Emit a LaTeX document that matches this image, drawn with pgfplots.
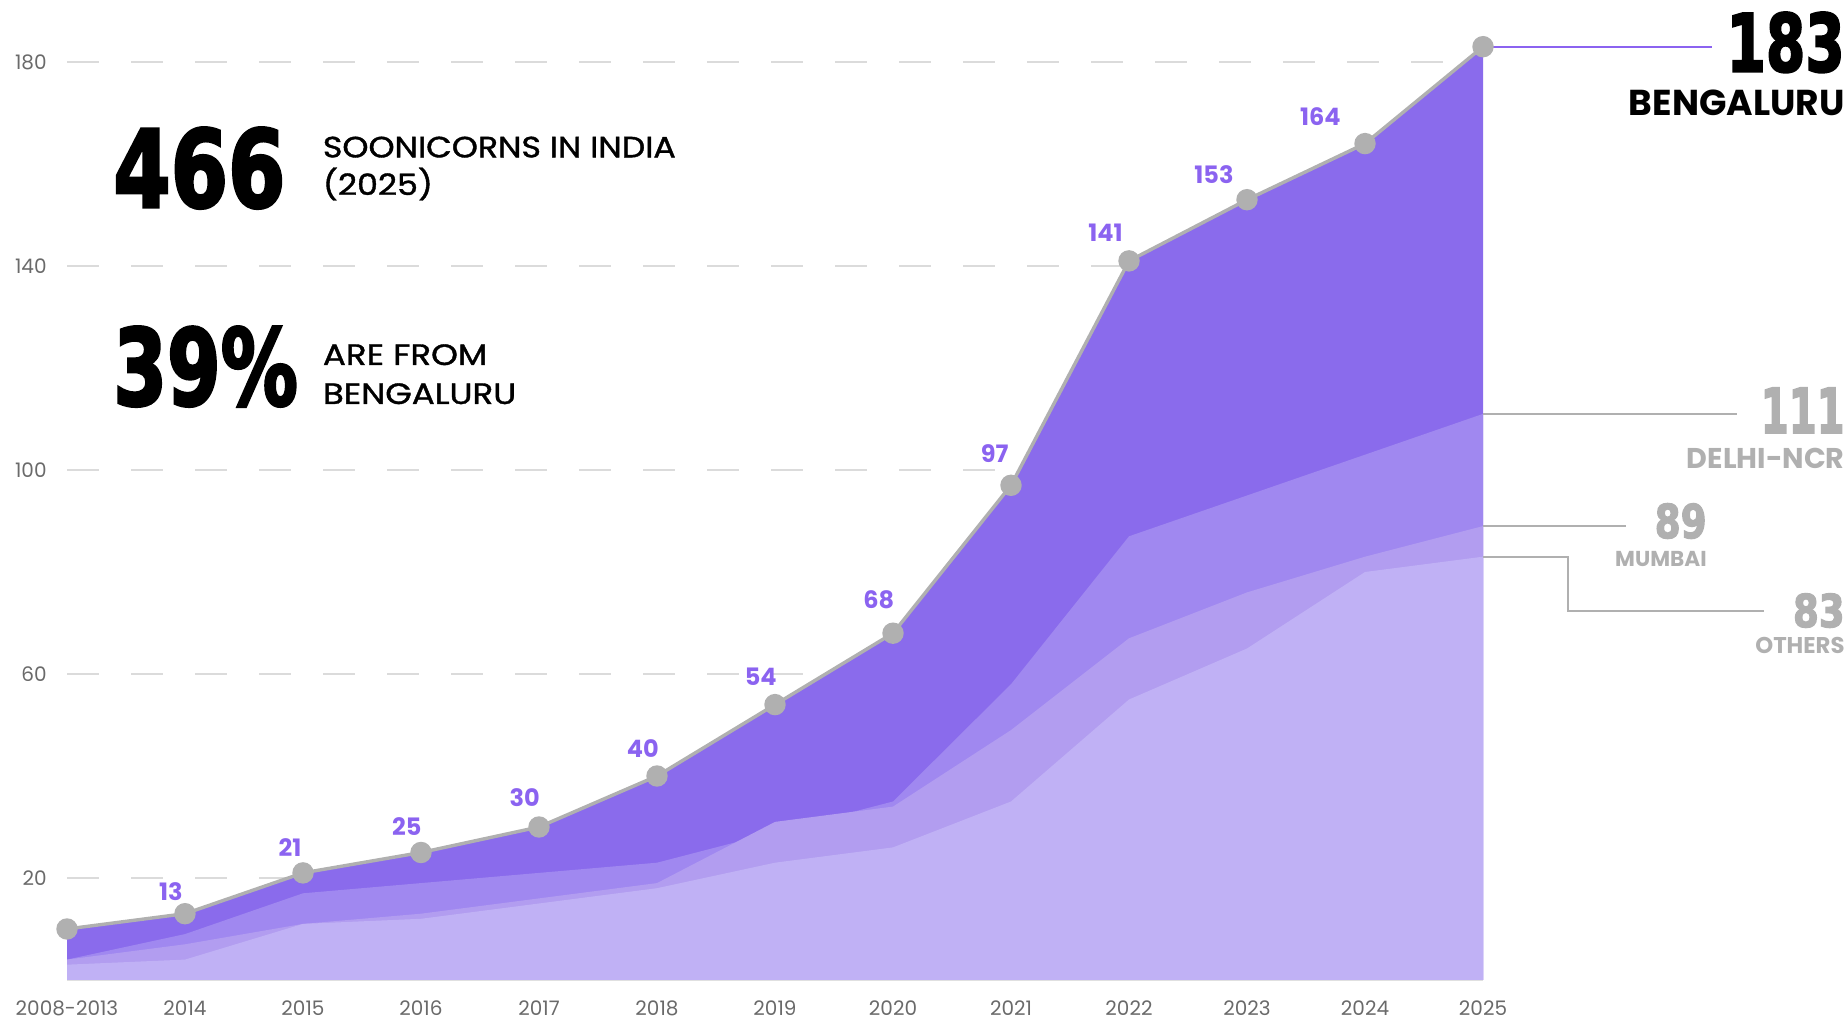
\documentclass[border=0pt]{standalone}
\usepackage{pgfplots}
\pgfplotsset{compat=1.18}
\usepackage{fontspec}
\usepackage{graphicx}
\setmainfont{Poppins}
\newfontfamily\heavy{DejaVu Sans}[BoldFeatures={FakeBold=3}]
\newfontfamily\pmed{Poppins}[FakeBold=1.2]
\definecolor{beng}{HTML}{8A6BEC}
\definecolor{delhi}{HTML}{A088F0}
\definecolor{mum}{HTML}{B29DF0}
\definecolor{oth}{HTML}{C0B1F5}
\definecolor{lbl}{HTML}{8B63F0}
\definecolor{ln}{HTML}{B0B0B0}
\definecolor{tickc}{HTML}{6A6A6A}
\definecolor{anno}{HTML}{B0B0B0}
\begin{document}
\begin{tikzpicture}
\begin{axis}[
  scale only axis, width=708pt, height=484.5pt,
  xmin=0, xmax=12, ymin=0, ymax=190,
  clip=false,
  separate axis lines,
  axis x line*=bottom, axis y line*=left,
  y axis line style={draw=none},
  x axis line style={draw=black!12, line width=1pt},
  ytick={20,60,100,140,180},
  xtick={0,...,12},
  xticklabels={2008-2013,2014,2015,2016,2017,2018,2019,2020,2021,2022,2023,2024,2025},
  major tick length=0pt,
  ymajorgrids,
  grid style={draw=black!14, line width=0.75pt, dash pattern=on 16pt off 16pt},
  tick label style={font=\fontsize{10}{12}\selectfont, text=tickc},
  /pgf/number format/assume math mode=true,
  yticklabel style={anchor=east, inner sep=0pt, xshift=-10pt},
  xticklabel style={anchor=north, inner sep=0pt, yshift=-10pt},
]
% Bengaluru
\addplot[fill=beng, draw=none] coordinates {(0,10) (1,13) (2,21) (3,25) (4,30) (5,40) (6,54) (7,68) (8,97) (9,141) (10,153) (11,164) (12,183)} \closedcycle;
% Delhi-NCR
\addplot[fill=delhi, draw=none] coordinates {(0,4) (1,9) (2,17) (3,19) (4,21) (5,23) (6,29) (7,35) (8,58) (9,87) (10,95) (11,103) (12,111)} \closedcycle;
% Mumbai
\addplot[fill=mum, draw=none] coordinates {(0,4) (1,7) (2,11) (3,13) (4,16) (5,19) (6,31) (7,34) (8,49) (9,67) (10,76) (11,83) (12,89)} \closedcycle;
% Others
\addplot[fill=oth, draw=none] coordinates {(0,3) (1,4) (2,11) (3,12) (4,15) (5,18) (6,23) (7,26) (8,35) (9,55) (10,65) (11,80) (12,83)} \closedcycle;
% Bengaluru line
\addplot[ln, line width=1.7pt, mark=*, mark size=4.5pt, mark options={fill=ln, draw=none}] coordinates {(0,10) (1,13) (2,21) (3,25) (4,30) (5,40) (6,54) (7,68) (8,97) (9,141) (10,153) (11,164) (12,183)};

% value labels
\tikzset{vl/.style={inner sep=0pt, anchor=center, text=lbl, font=\bfseries\fontsize{12}{12}\selectfont}}
\node[vl, xshift=-7.1pt, yshift=11.2pt] at (axis cs:1,13) {13};
\node[vl, xshift=-6.5pt, yshift=12.9pt] at (axis cs:2,21) {21};
\node[vl, xshift=-7.1pt, yshift=12.9pt] at (axis cs:3,25) {25};
\node[vl, xshift=-7.1pt, yshift=14.7pt] at (axis cs:4,30) {30};
\node[vl, xshift=-7.1pt, yshift=13.5pt] at (axis cs:5,40) {40};
\node[vl, xshift=-7.1pt, yshift=14.1pt] at (axis cs:6,54) {54};
\node[vl, xshift=-7.1pt, yshift=16.5pt] at (axis cs:7,68) {68};
\node[vl, xshift=-8.2pt, yshift=15.9pt] at (axis cs:8,97) {97};
\node[vl, xshift=-11.8pt, yshift=14.1pt] at (axis cs:9,141) {141};
\node[vl, xshift=-16.5pt, yshift=12.4pt] at (axis cs:10,153) {153};
\node[vl, xshift=-22.3pt, yshift=13.5pt] at (axis cs:11,164) {164};

% connectors
\draw[lbl, line width=1pt] (axis cs:12,183) -- ++(114.5pt,0);
\draw[anno, line width=1pt] (axis cs:12,111) -- ++(127pt,0);
\draw[anno, line width=1pt] (axis cs:12,89) -- ++(71.5pt,0);
\draw[anno, line width=1pt] (axis cs:12,83) -- ++(42.5pt,0) -- ++(0,-27pt) -- ++(98pt,0);
\end{axis}

% left headline
\node[anchor=base west, inner sep=0pt] at (23pt,386.5pt) {\scalebox{0.77}[1]{\heavy\bfseries\fontsize{53.5}{54}\selectfont 466}};
\node[anchor=base west, inner sep=0pt] at (127.75pt,411.3pt) {\scalebox{1.13}[1]{\pmed\fontsize{14.7}{15}\selectfont SOONICORNS IN INDIA}};
\node[anchor=base west, inner sep=0pt] at (127.75pt,392.5pt) {\scalebox{1.13}[1]{\pmed\fontsize{14.7}{15}\selectfont (2025)}};
\node[anchor=base west, inner sep=0pt] at (23pt,287.5pt) {\scalebox{0.73}[1]{\heavy\bfseries\fontsize{52.8}{53}\selectfont 39\%}};
\node[anchor=base west, inner sep=0pt] at (127.75pt,307.5pt) {\scalebox{1.16}[1]{\pmed\fontsize{14.7}{15}\selectfont ARE FROM}};
\node[anchor=base west, inner sep=0pt] at (127.75pt,288pt) {\scalebox{1.16}[1]{\pmed\fontsize{14.7}{15}\selectfont BENGALURU}};

% right annotations
\node[anchor=base east, inner sep=0pt] at (889pt,454.3pt) {\scalebox{0.71}[1]{\heavy\bfseries\fontsize{39.8}{40}\selectfont 183}};
\node[anchor=base east, inner sep=0pt] at (889pt,432pt) {\bfseries\fontsize{18}{18}\selectfont BENGALURU};
\node[anchor=base east, inner sep=0pt, text=anno] at (889pt,273.5pt) {\scalebox{0.65}[1]{\heavy\bfseries\fontsize{30.9}{31}\selectfont 111}};
\node[anchor=base east, inner sep=0pt, text=anno] at (889pt,255.5pt) {\bfseries\fontsize{14.3}{14}\selectfont DELHI-NCR};
\node[anchor=base east, inner sep=0pt, text=anno] at (820pt,221pt) {\scalebox{0.8}[1]{\heavy\bfseries\fontsize{23.3}{23}\selectfont 89}};
\node[anchor=base east, inner sep=0pt, text=anno] at (820pt,206.5pt) {\bfseries\fontsize{10.8}{11}\selectfont MUMBAI};
\node[anchor=base east, inner sep=0pt, text=anno] at (889pt,176.5pt) {\scalebox{0.82}[1]{\heavy\bfseries\fontsize{22.6}{23}\selectfont 83}};
\node[anchor=base east, inner sep=0pt, text=anno] at (889pt,163pt) {\bfseries\fontsize{11.4}{11}\selectfont OTHERS};

\pgfresetboundingbox
\path[use as bounding box] (-33.5pt,-20pt) rectangle (889pt,490pt);
\end{tikzpicture}
\end{document}
